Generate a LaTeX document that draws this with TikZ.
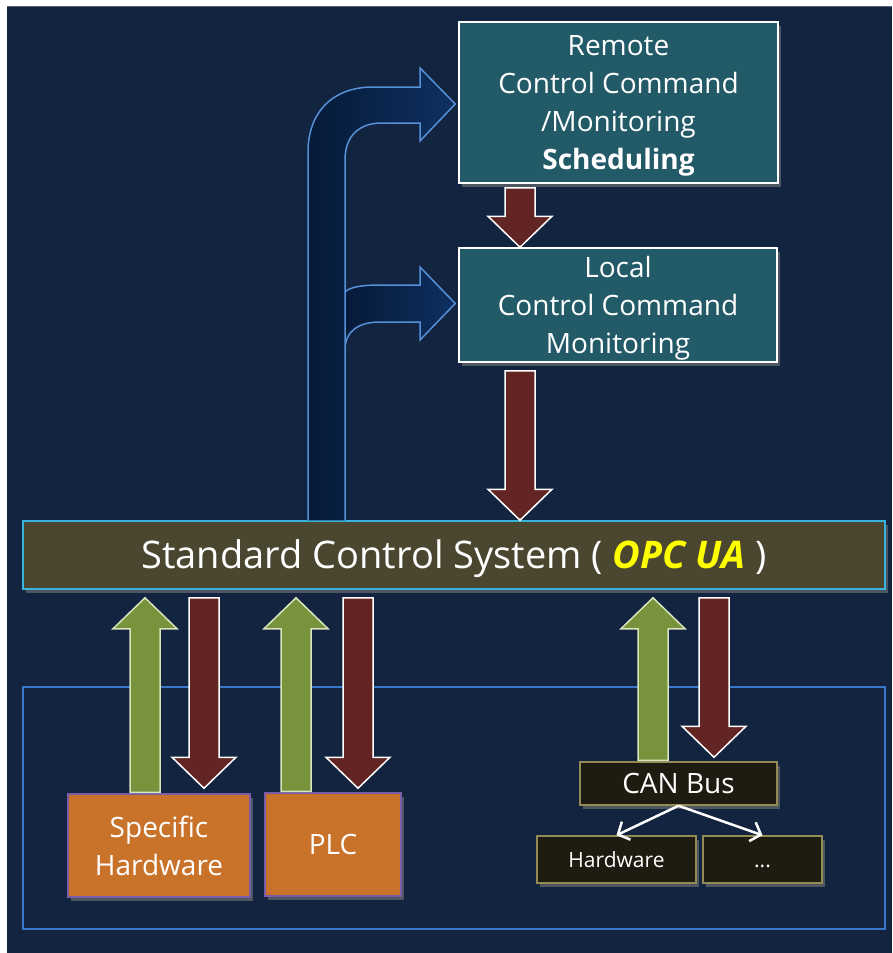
\documentclass[tikz,border=0pt]{standalone}
\usepackage{fontspec}
\setmainfont{Open Sans}
\usetikzlibrary{arrows.meta,calc,shadows}

\definecolor{navy}{HTML}{12243F}
\definecolor{tealbox}{HTML}{235A68}
\definecolor{barfill}{HTML}{4B4630}
\definecolor{barline}{HTML}{38B4DC}
\definecolor{opcyellow}{HTML}{FFFF00}
\definecolor{frameblue}{HTML}{3C78C8}
\definecolor{flowline}{HTML}{5590D8}
\definecolor{flowdark}{HTML}{061A38}
\definecolor{flowlight}{HTML}{0F3060}
\definecolor{redfill}{HTML}{632523}
\definecolor{greenfill}{HTML}{77933C}
\definecolor{greenline}{HTML}{D7E4BD}
\definecolor{orangebox}{HTML}{C9722A}
\definecolor{purpleline}{HTML}{7A5CA8}
\definecolor{canfill}{HTML}{1E1B10}
\definecolor{canline}{HTML}{948A54}

% block arrow: style, tail, tip, tail gap, tip gap
\newcommand{\blockarrow}[5]{%
  \draw[#1] let \p1=($#2!#4!#3$), \p2=($#3!#5!#2$), \p3=($(\p2)!31pt!(\p1)$) in
    ({\x1-15pt},\y1) -- ({\x1-15pt},\y3) -- ({\x1-32pt},\y3) -- (\x1,\y2)
    -- ({\x1+32pt},\y3) -- ({\x1+15pt},\y3) -- ({\x1+15pt},\y1) -- cycle;}

\begin{document}
\begin{tikzpicture}[x=1pt,y=-1pt,
  shade/.style={drop shadow={opacity=0.55,shadow xshift=3pt,shadow yshift=-4pt}},
  box/.style={draw=white, line width=1.5pt, fill=tealbox, text=white, align=center,
    inner sep=0pt, text depth=0pt, font=\fontsize{28}{38}\selectfont, shade},
  barbox/.style={draw=barline, line width=1.5pt, fill=barfill, text=white,
    inner sep=0pt, text height=27pt, text depth=0pt, font=\fontsize{38}{46}\selectfont, shade},
  devbox/.style={draw=purpleline, line width=1.5pt, fill=orangebox, text=white,
    align=center, inner sep=0pt, text depth=0pt, font=\fontsize{28}{38}\selectfont, shade},
  canbox/.style={draw=canline, line width=1.5pt, fill=canfill, text=white,
    inner sep=0pt, text depth=0pt, shade},
  down/.style={fill=redfill, draw=white, line width=1.5pt, line join=miter},
  up/.style={fill=greenfill, draw=greenline, line width=1.5pt, line join=miter},
  flow/.style={draw=flowline, line width=1.5pt, left color=flowdark, right color=flowlight},
  wire/.style={draw=white, line width=2.5pt, -{Straight Barb[length=9pt,width=20pt,line width=2.5pt]}}]
\useasboundingbox (0,0) rectangle (892,953);
\fill[white] (0,0) rectangle (892,953);
\fill[navy] (7,6) rectangle (892,953);
\draw[navy!70!white, line width=1pt] (7,6.5) -- (892,6.5);
\draw[frameblue, line width=2pt] (23,687) rectangle (885,929);

% boxes
\node[box, minimum width=319pt, minimum height=161pt] (remote) at (618.5,102.5)
  {Remote\\Control Command\\/Monitoring\\\textbf{Scheduling}};
\node[box, minimum width=318pt, minimum height=114pt] (local) at (618,305)
  {Local\\Control Command\\Monitoring};
\node[barbox, minimum width=862pt, minimum height=68pt] (std) at (454,555)
  {Standard Control System ( \textbf{\textit{\color{opcyellow}OPC UA}} )};
\node[devbox, minimum width=182pt, minimum height=103pt] (spec) at (159,845.5)
  {Specific\\Hardware};
\node[devbox, minimum width=136pt, minimum height=103pt, text height=20pt] (plc) at (333,844.5) {PLC};
\node[canbox, minimum width=197pt, minimum height=43pt, text height=20pt, font=\fontsize{28}{34}\selectfont]
  (can) at (678.5,783.5) {CAN Bus};
\node[canbox, minimum width=159pt, minimum height=47pt, text height=15pt, font=\fontsize{21}{26}\selectfont]
  (hw) at (616.5,859.5) {Hardware};
\node[canbox, minimum width=119pt, minimum height=47pt, text height=15pt, font=\fontsize{21}{26}\selectfont]
  (more) at (762.5,859.5) {...};

% arrow columns
\coordinate (c1) at (520,0);
\coordinate (c2) at (145,0);
\coordinate (c3) at (204,0);
\coordinate (c4) at (296,0);
\coordinate (c5) at (358,0);
\coordinate (c6) at (653,0);
\coordinate (c7) at (714,0);
\coordinate (upL) at (308,0);
\coordinate (upR) at (345,0);

% command arrows
\blockarrow{down}{(remote.south -| c1)}{(local.north -| c1)}{4pt}{0pt}
\blockarrow{down}{(local.south -| c1)}{(std.north -| c1)}{8pt}{0pt}
\blockarrow{up}{(spec.north -| c2)}{(std.south -| c2)}{1pt}{8pt}
\blockarrow{down}{(std.south -| c3)}{(spec.north -| c3)}{8pt}{5pt}
\blockarrow{up}{(plc.north -| c4)}{(std.south -| c4)}{1pt}{8pt}
\blockarrow{down}{(std.south -| c5)}{(plc.north -| c5)}{8pt}{4pt}
\blockarrow{up}{(can.north -| c6)}{(std.south -| c6)}{1pt}{8pt}
\blockarrow{down}{(std.south -| c7)}{(can.north -| c7)}{8pt}{4pt}

% feedback to the control rooms
\path[flow] (345,292) .. controls (350,287) and (362,285) .. (380,285)
  -- (420,285) -- (420,267) -- ($(local.west)+(-3,-1.5)$) -- (420,340) -- (420,322)
  -- (380,322) .. controls (360,322) and (345,330) .. (345,350);
\path[flow] (std.north -| upL) -- (308,152) .. controls (308,112) and (333,87) .. (373,87)
  -- (420,87) -- (420,68) -- ($(remote.west)+(-3,1.5)$) -- (420,141) -- (420,123)
  -- (382,123) .. controls (360,123) and (345,135) .. (345,160) -- (std.north -| upR);

% bus
\draw[wire] (can.south) -- (hw.north);
\draw[wire] (can.south) -- (more.north);
\end{tikzpicture}
\end{document}
